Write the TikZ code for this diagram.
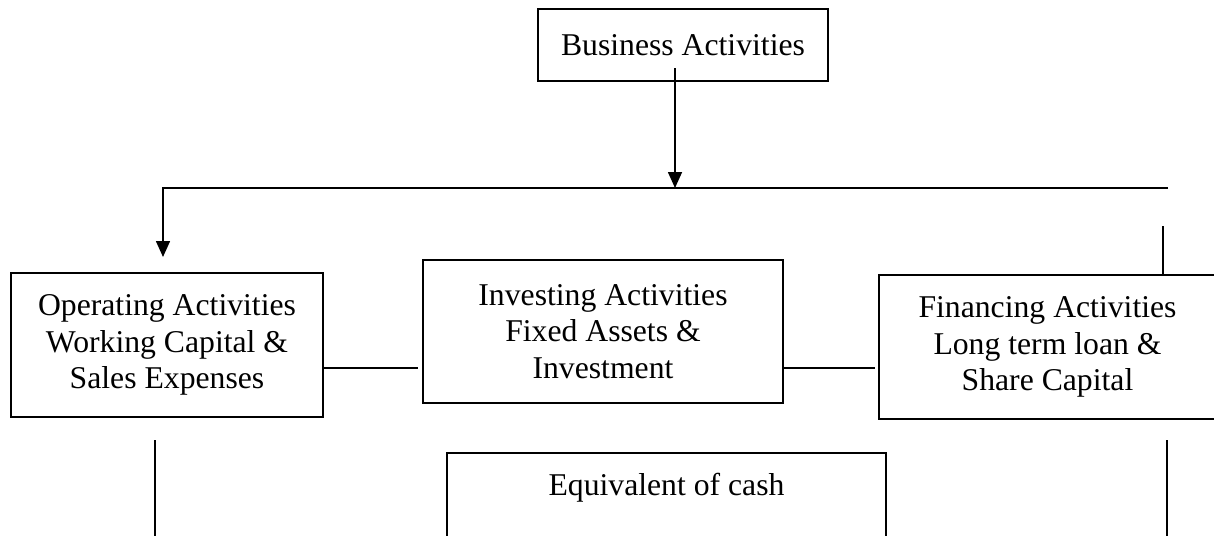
\documentclass[tikz,border=0pt]{standalone}
\usepackage{fontspec}
\setmainfont{Liberation Serif}
\usetikzlibrary{arrows.meta}
\begin{document}
\begin{tikzpicture}[x=1pt,y=-1pt,
  line width=1.6pt,
  every node/.style={font=\fontsize{31.7}{36.5}\selectfont},
  boxnode/.style={draw, line width=1.6pt, align=center, inner sep=0pt},
  tip/.style={-{Triangle[width=14pt,length=16pt]}}]
\useasboundingbox (0,0) rectangle (1214,535);
% boxes
\node[boxnode, minimum width=290pt, minimum height=72pt] (bus) at (683,45) {Business Activities};
\node[boxnode, minimum width=312pt, minimum height=144pt] (op) at (167,345) {Operating Activities\\Working Capital \&\\Sales Expenses};
\node[boxnode, minimum width=360pt, minimum height=143pt] (inv) at (603,331.5) {Investing Activities\\Fixed Assets \&\\Investment};
\node[boxnode, minimum width=337pt, minimum height=144pt] (fin) at (1047.5,347) {Financing Activities\\Long term loan \&\\Share Capital};
\node[boxnode, anchor=north, minimum width=439pt, text height=43pt, text depth=120pt] (eq) at (666.5,452) {Equivalent of cash};
% coordinates
\coordinate (bstart) at (675,68);
\coordinate (bend) at (675,188);
\coordinate (hR) at (1168,188);
\coordinate (optip) at (163,257);
\coordinate (fintop) at (1163,226);
\coordinate (lvl) at (0,368);
\coordinate (bl1) at (155,440);
\coordinate (bl2) at (155,540);
\coordinate (br1) at (1167,440);
\coordinate (br2) at (1167,540);
% connectors
\draw[tip] (bstart) -- (bend);
\draw[tip] (hR) -| (optip);
\draw (fintop) -- (fintop |- fin.north);
\draw (op.east |- lvl) -- ([xshift=-4pt]inv.west |- lvl);
\draw (inv.east |- lvl) -- ([xshift=-3pt]fin.west |- lvl);
\draw (bl1) -- (bl2);
\draw (br1) -- (br2);
\end{tikzpicture}
\end{document}
